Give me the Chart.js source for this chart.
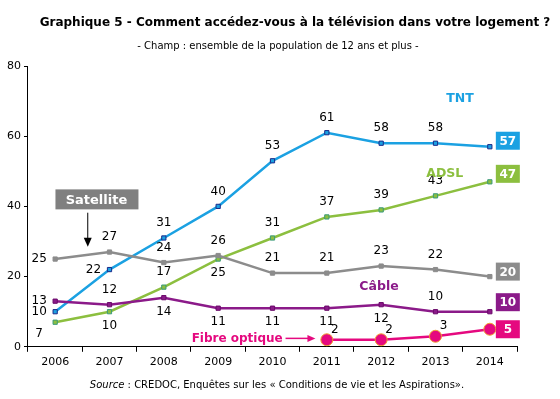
<!DOCTYPE html>
<html>
<head>
<meta charset="utf-8">
<script src="https://cdn.jsdelivr.net/npm/chart.js@4"></script>
<style>
  html, body { margin: 0; padding: 0; background: #fff; }
  #wrap { width: 560px; height: 399px; position: relative; }
</style>
</head>
<body>
<div id="wrap"><canvas id="lineChart" width="560" height="399"></canvas></div>
<script>
// data
const years = ['2006', '2007', '2008', '2009', '2010', '2011', '2012', '2013', '2014'];
const tnt = [10, 22, 31, 40, 53, 61, 58, 58, 57];
const adsl = [7, 10, 17, 25, 31, 37, 39, 43, 47];
const satellite = [25, 27, 24, 26, 21, 21, 23, 22, 20];
const cable = [13, 12, 14, 11, 11, 11, 12, 10, 10];
const fibre = [null, null, null, null, null, 2, 2, 3, 5];
const yTicks = [0, 20, 40, 60, 80];

// where each value label sits relative to its point (last one is the box)
const tntPos = ['left', 'left', 'above', 'above', 'above', 'above', 'above', 'above', 'box'];
const adslPos = ['belowleft', 'below', 'above', 'below', 'above', 'above', 'above', 'above', 'box'];
const satPos = ['left', 'above', 'above', 'above', 'above', 'above', 'above', 'above', 'box'];
const cablePos = ['left', 'above', 'below', 'below', 'below', 'below', 'below', 'above', 'box'];
const fibrePos = [null, null, null, null, null, 'aboveright', 'aboveright', 'aboveright', 'box'];

const FONT = '"DejaVu Sans", Verdana, sans-serif';

const valueLabels = {
  id: 'valueLabels',
  afterDatasetsDraw(chart) {
    const ctx = chart.ctx;
    const xs = chart.scales.x, ys = chart.scales.y;
    ctx.save();
    chart.data.datasets.forEach(function(ds, di) {
      const meta = chart.getDatasetMeta(di);
      ds.data.forEach(function(v, i) {
        if (v === null) return;
        const p = meta.data[i];
        const pos = ds.labelPos[i];
        let x = p.x, y = p.y;
        if (pos === 'box') {
          const bx = xs.getPixelForValue(i) + 18;
          const by = y - ds.boxShift;
          ctx.fillStyle = ds.boxColor;
          ctx.fillRect(bx - 12, by - 9, 24, 18);
          ctx.fillStyle = '#fff';
          ctx.font = 'bold 12px ' + FONT;
          ctx.textAlign = 'center';
          ctx.textBaseline = 'middle';
          ctx.fillText(String(v), bx, by + 1);
          return;
        }
        if (pos === 'left') { x -= 16; }
        else if (pos === 'above') { y -= 15; }
        else if (pos === 'below') { y += 14; }
        else if (pos === 'belowleft') { x -= 16; y += 12; }
        else if (pos === 'aboveright') { x += 8; y -= 10; }
        ctx.fillStyle = '#000';
        ctx.font = '12px ' + FONT;
        ctx.textAlign = 'center';
        ctx.textBaseline = 'middle';
        ctx.fillText(String(v), x, y);
      });
    });

    // series names
    function px(i) { return xs.getPixelForValue(i); }
    function py(v) { return ys.getPixelForValue(v); }
    ctx.font = 'bold 12.5px ' + FONT;
    ctx.textAlign = 'center';
    ctx.textBaseline = 'middle';
    ctx.fillStyle = '#1ba1e2';
    ctx.fillText('TNT', px(7.45), py(70.6));
    ctx.fillStyle = '#8cbf3f';
    ctx.fillText('ADSL', px(7.17), py(49.4));
    ctx.fillStyle = '#8b1a89';
    ctx.fillText('Câble', px(5.96), py(17));
    ctx.font = 'bold 12px ' + FONT;
    ctx.fillStyle = '#e5097f';
    ctx.fillText('Fibre optique', px(3.35), py(2.4));
    // fibre arrow
    ctx.strokeStyle = '#e5097f';
    ctx.lineWidth = 1.5;
    const fy = py(2.4);
    ctx.beginPath();
    ctx.moveTo(px(4.24), fy);
    ctx.lineTo(px(4.79) - 5, fy);
    ctx.stroke();
    ctx.beginPath();
    ctx.moveTo(px(4.79), fy);
    ctx.lineTo(px(4.79) - 8, fy - 3.5);
    ctx.lineTo(px(4.79) - 8, fy + 3.5);
    ctx.closePath();
    ctx.fill();

    // satellite box + arrow
    ctx.font = 'bold 13px ' + FONT;
    const sx = px(0.76), sy = py(42);
    ctx.fillStyle = '#808080';
    ctx.fillRect(sx - 41, sy - 10, 83, 20);
    ctx.fillStyle = '#fff';
    ctx.fillText('Satellite', sx, sy + 1);
    ctx.strokeStyle = '#000';
    ctx.fillStyle = '#000';
    ctx.lineWidth = 1;
    const ax = px(0.6);
    ctx.beginPath();
    ctx.moveTo(ax, py(38.2));
    ctx.lineTo(ax, py(29.5));
    ctx.stroke();
    ctx.beginPath();
    ctx.moveTo(ax, py(28.5));
    ctx.lineTo(ax - 4, py(28.5) - 9);
    ctx.lineTo(ax + 4, py(28.5) - 9);
    ctx.closePath();
    ctx.fill();
    ctx.restore();
  }
};

const titles = {
  id: 'titles',
  afterDraw(chart) {
    const ctx = chart.ctx;
    ctx.save();
    ctx.fillStyle = '#000';
    ctx.textAlign = 'center';
    ctx.textBaseline = 'middle';
    ctx.font = 'bold 12px ' + FONT;
    ctx.fillText('Graphique 5 - Comment accédez-vous à la télévision dans votre logement ?', 295, 23);
    ctx.font = '10px ' + FONT;
    ctx.fillText('- Champ : ensemble de la population de 12 ans et plus -', 278, 46);
    // source line
    const s1 = 'Source';
    const s2 = ' : CREDOC, Enquêtes sur les « Conditions de vie et les Aspirations».';
    ctx.font = '10px ' + FONT;
    const w2 = ctx.measureText(s2).width;
    ctx.font = 'italic 10px ' + FONT;
    const w1 = ctx.measureText(s1).width;
    let x0 = 277 - (w1 + w2) / 2;
    ctx.textAlign = 'left';
    ctx.fillText(s1, x0, 385);
    ctx.font = '10px ' + FONT;
    ctx.fillText(s2, x0 + w1, 385);
    ctx.restore();
  }
};

function mk(label, data, color, pos, boxShift, pointStyle, radius, border) {
  return {
    label: label,
    data: data,
    borderColor: color,
    backgroundColor: color,
    borderWidth: 2.5,
    pointStyle: pointStyle,
    pointRadius: radius,
    pointBorderColor: border,
    pointBorderWidth: 1,
    pointBackgroundColor: color,
    tension: 0,
    labelPos: pos,
    boxColor: color,
    boxShift: boxShift
  };
}

const ctx = document.getElementById('lineChart');
new Chart(ctx, {
  type: 'line',
  data: {
    labels: years,
    datasets: [
      mk('Satellite', satellite, '#8c8c8c', satPos, 5, 'rect', 3, '#8c8c8c'),
      mk('Câble', cable, '#8b1a89', cablePos, 9.5, 'rect', 3, '#6a0a6a'),
      mk('ADSL', adsl, '#8cbf3f', adslPos, 8, 'rect', 3, '#3a9a7a'),
      mk('TNT', tnt, '#1ba1e2', tntPos, 6, 'rect', 3, '#1a2a8a'),
      mk('Fibre optique', fibre, '#e5097f', fibrePos, 0, 'circle', 6, '#f0a030')
    ]
  },
  options: {
    responsive: false,
    animation: false,
    layout: { padding: { top: 66, left: 4, right: 43, bottom: 26 } },
    plugins: {
      legend: { display: false },
      tooltip: { enabled: false },
      title: { display: false }
    },
    scales: {
      x: {
        offset: true,
        border: { color: '#000', width: 1 },
        grid: { display: true, drawOnChartArea: false, drawTicks: true, tickLength: 5, offset: true, color: '#000' },
        ticks: { color: '#000', font: { family: FONT, size: 11 }, padding: 4, maxRotation: 0 }
      },
      y: {
        min: 0,
        max: 80,
        afterBuildTicks: function(scale) { scale.ticks = yTicks.map(function(v) { return { value: v }; }); },
        border: { color: '#000', width: 1 },
        grid: { display: true, drawOnChartArea: false, drawTicks: true, tickLength: 4, color: '#000' },
        ticks: { color: '#000', font: { family: FONT, size: 11 }, padding: 3 }
      }
    }
  },
  plugins: [valueLabels, titles]
});
</script>
</body>
</html>
